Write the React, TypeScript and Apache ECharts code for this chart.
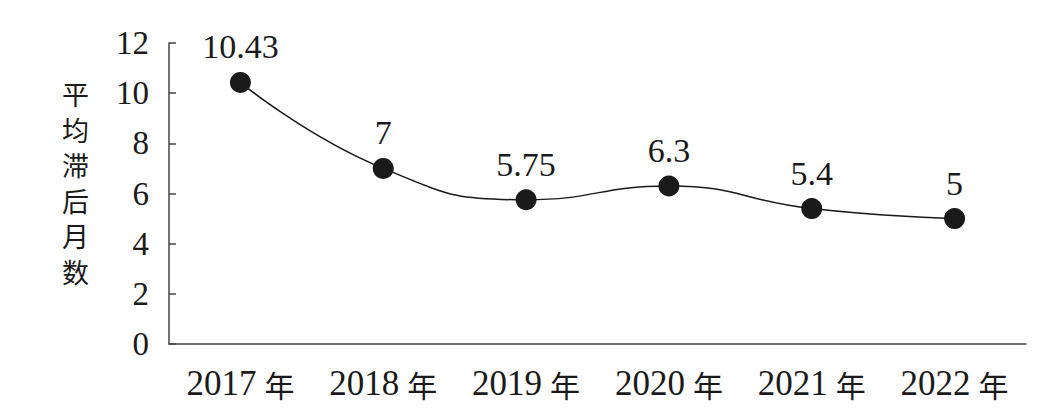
import React, { useEffect, useRef } from "react";
import * as echarts from "echarts";

const categories = ["2017", "2018", "2019", "2020", "2021", "2022"];
const lagMonths = [10.43, 7, 5.75, 6.3, 5.4, 5];
const yTicks = { min: 0, max: 12, interval: 2 };
const yName = "平均滞后月数";

const SERIF = "'Liberation Serif', 'Times New Roman', 'DejaVu Serif', serif";
const CJK = "'Noto Sans CJK SC', sans-serif";

export default function App() {
  const ref = useRef<HTMLDivElement>(null);
  useEffect(() => {
    document.body.style.margin = "0";
    if (!ref.current) return;
    const chart = echarts.init(ref.current, null, { renderer: "svg" });
    const nameChars = yName.split("").map((ch, i) => ({
      type: "text",
      left: 62,
      top: 80 + i * 35.5,
      style: {
        text: ch,
        fontFamily: CJK,
        fontSize: 27,
        fill: "#1a1a1a",
      },
    }));
    chart.setOption({
      animation: false,
      backgroundColor: "#ffffff",
      grid: { left: 169, right: 19, top: 43, bottom: 69 },
      graphic: nameChars,
      xAxis: {
        type: "category",
        data: categories,
        boundaryGap: true,
        axisLine: { lineStyle: { color: "#444", width: 1.5 } },
        axisTick: {
          alignWithLabel: true,
          inside: true,
          length: 13,
          lineStyle: { color: "#444", width: 1.5 },
        },
        axisLabel: {
          margin: 22,
          formatter: (v: string) => `{n|${v}}{y|年}`,
          rich: {
            n: { fontFamily: SERIF, fontSize: 35, color: "#1a1a1a" },
            y: {
              fontFamily: CJK,
              fontSize: 30,
              color: "#1a1a1a",
              padding: [0, 0, 0, 8],
            },
          },
        },
        splitLine: { show: false },
      },
      yAxis: {
        type: "value",
        min: yTicks.min,
        max: yTicks.max,
        interval: yTicks.interval,
        axisLine: { show: true, lineStyle: { color: "#444", width: 1.5 } },
        axisTick: {
          show: true,
          inside: true,
          length: 7,
          lineStyle: { color: "#444", width: 1.5 },
        },
        axisLabel: {
          margin: 20,
          fontFamily: SERIF,
          fontSize: 33,
          color: "#1a1a1a",
        },
        splitLine: { show: false },
      },
      series: [
        {
          type: "line",
          data: lagMonths,
          smooth: 0.5,
          symbol: "circle",
          symbolSize: 21,
          itemStyle: { color: "#1a1a1a" },
          lineStyle: { color: "#1a1a1a", width: 1.5 },
          label: {
            show: true,
            position: "top",
            distance: 8,
            fontFamily: SERIF,
            fontSize: 34,
            color: "#1a1a1a",
          },
        },
      ],
    });
    return () => chart.dispose();
  }, []);
  return <div ref={ref} style={{ width: 1045, height: 413 }} />;
}
